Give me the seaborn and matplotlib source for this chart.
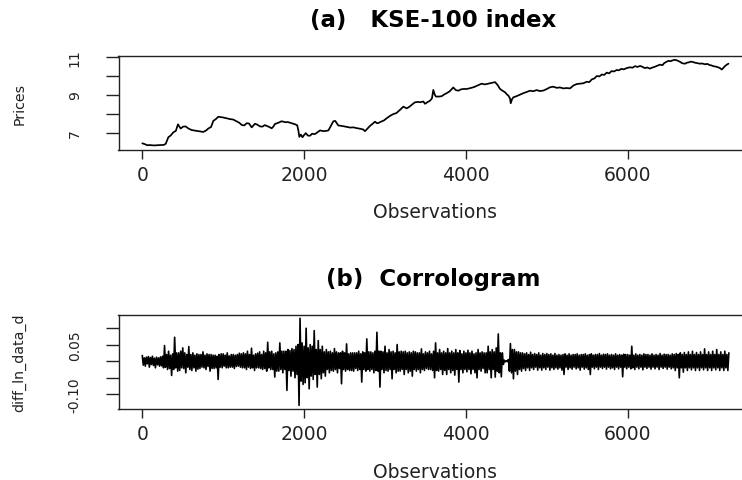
import numpy as np
import pandas as pd
import matplotlib
matplotlib.use("Agg")
import matplotlib.pyplot as plt
import seaborn as sns

# ---------------- data ----------------
price_obs = [
    0, 30, 62, 95, 140, 180, 230, 268, 290, 322,
    350, 384, 415, 441, 474, 505, 536, 570, 610, 640,
    680, 720, 754, 790, 816, 850, 878, 910, 940, 970,
    1000, 1043, 1080, 1125, 1165, 1200, 1228, 1260, 1290, 1320,
    1352, 1393, 1423, 1455, 1485, 1515, 1537, 1570, 1599, 1620,
    1640, 1680, 1720, 1743, 1770, 1800, 1830, 1860, 1890, 1915,
    1930, 1941, 1960, 1980, 2000, 2021, 2045, 2073, 2100, 2130,
    2165, 2197, 2240, 2280, 2300, 2330, 2361, 2385, 2423, 2460,
    2500, 2535, 2567, 2610, 2650, 2690, 2730, 2753, 2780, 2815,
    2850, 2876, 2900, 2918, 2950, 2985, 3021, 3060, 3103, 3140,
    3180, 3227, 3268, 3300, 3340, 3371, 3410, 3433, 3474, 3494,
    3530, 3556, 3580, 3597, 3615, 3630, 3665, 3700, 3735, 3763,
    3800, 3844, 3875, 3906, 3940, 3968, 4010, 4051, 4100, 4154,
    4195, 4230, 4257, 4300, 4340, 4360, 4390, 4422, 4455, 4483,
    4505, 4525, 4545, 4554, 4570, 4586, 4625, 4669, 4710, 4750,
    4792, 4830, 4875, 4916, 4960, 5000, 5040, 5080, 5122, 5163,
    5204, 5245, 5287, 5328, 5370, 5410, 5452, 5493, 5525, 5555,
    5590, 5617, 5650, 5680, 5710, 5740, 5770, 5800, 5830, 5864,
    5890, 5920, 5950, 5988, 6028, 6060, 6090, 6120, 6152, 6180,
    6210, 6240, 6276, 6300, 6330, 6365, 6399, 6430, 6450, 6475,
    6502, 6530, 6550, 6580, 6606, 6630, 6650, 6670, 6690, 6710,
    6729, 6755, 6780, 6805, 6832, 6860, 6890, 6920, 6955, 6985,
    7010, 7035, 7058, 7085, 7110, 7140, 7162, 7185, 7203, 7225,
    7245]
price_vals = [
    6.44, 6.40, 6.34, 6.35, 6.33, 6.34, 6.35, 6.36, 6.42, 6.76,
    6.85, 7.02, 7.10, 7.44, 7.22, 7.32, 7.33, 7.22, 7.14, 7.12,
    7.09, 7.06, 7.04, 7.12, 7.22, 7.30, 7.62, 7.72, 7.84, 7.82,
    7.80, 7.76, 7.72, 7.69, 7.60, 7.52, 7.41, 7.38, 7.50, 7.48,
    7.28, 7.47, 7.42, 7.33, 7.32, 7.40, 7.36, 7.30, 7.23, 7.32,
    7.46, 7.52, 7.60, 7.58, 7.55, 7.56, 7.52, 7.48, 7.44, 7.39,
    7.10, 6.78, 6.90, 6.76, 6.88, 6.98, 6.85, 6.84, 6.95, 6.92,
    7.02, 7.12, 7.08, 7.10, 7.12, 7.35, 7.60, 7.62, 7.38, 7.36,
    7.33, 7.30, 7.27, 7.28, 7.24, 7.21, 7.17, 7.08, 7.20, 7.36,
    7.48, 7.58, 7.50, 7.51, 7.58, 7.64, 7.76, 7.88, 7.98, 8.03,
    8.18, 8.37, 8.28, 8.36, 8.50, 8.60, 8.62, 8.60, 8.64, 8.52,
    8.62, 8.68, 8.80, 9.25, 9.00, 8.90, 8.90, 8.92, 9.02, 9.08,
    9.18, 9.38, 9.24, 9.21, 9.28, 9.30, 9.30, 9.34, 9.40, 9.50,
    9.58, 9.54, 9.56, 9.60, 9.64, 9.66, 9.52, 9.30, 9.20, 9.13,
    9.02, 8.95, 8.80, 8.55, 8.76, 8.86, 8.92, 9.00, 9.08, 9.14,
    9.21, 9.18, 9.24, 9.19, 9.22, 9.30, 9.39, 9.42, 9.36, 9.38,
    9.33, 9.35, 9.33, 9.48, 9.56, 9.58, 9.60, 9.68, 9.66, 9.80,
    9.86, 9.98, 9.96, 10.06, 10.04, 10.16, 10.12, 10.24, 10.22, 10.30,
    10.28, 10.36, 10.33, 10.40, 10.44, 10.42, 10.50, 10.46, 10.51, 10.47,
    10.40, 10.43, 10.37, 10.42, 10.46, 10.52, 10.58, 10.55, 10.66, 10.72,
    10.78, 10.76, 10.80, 10.83, 10.81, 10.76, 10.72, 10.66, 10.64, 10.63,
    10.68, 10.70, 10.74, 10.72, 10.68, 10.66, 10.63, 10.64, 10.60, 10.62,
    10.56, 10.54, 10.50, 10.48, 10.45, 10.40, 10.32, 10.42, 10.51, 10.58,
    10.63]

# daily log-differences, one reading every 12.5 observations
ret_step = 12.5
ret_vals = [
    0.017, -0.012, 0.010, -0.015, 0.012, -0.008, 0.014, -0.018, 0.011, -0.010,
    0.015, -0.013, 0.009, -0.020, 0.012, -0.011, 0.010, -0.015, 0.013, -0.014,
    0.015, -0.020, 0.047, -0.018, 0.020, -0.025, 0.030, -0.022, 0.018, -0.043,
    0.022, -0.025, 0.072, -0.020, 0.025, -0.030, 0.025, -0.028, 0.030, -0.020,
    0.040, -0.022, 0.025, -0.035, 0.020, -0.018, 0.044, -0.025, 0.020, -0.028,
    0.025, -0.020, 0.018, -0.030, 0.022, -0.024, 0.020, -0.022, 0.020, -0.018,
    0.028, -0.020, 0.018, -0.025, 0.022, -0.016, 0.020, -0.030, 0.020, -0.022,
    0.018, -0.022, 0.018, -0.020, 0.015, -0.055, 0.020, -0.018, 0.022, -0.020,
    0.022, -0.015, 0.018, -0.020, 0.025, -0.020, 0.016, -0.018, 0.020, -0.018,
    0.020, -0.022, 0.018, -0.016, 0.020, -0.015, 0.024, -0.018, 0.022, -0.020,
    0.025, -0.020, 0.022, -0.025, 0.030, -0.018, 0.020, -0.022, 0.039, -0.020,
    0.018, -0.028, 0.022, -0.020, 0.024, -0.020, 0.028, -0.022, 0.020, -0.025,
    0.030, -0.022, 0.025, -0.030, 0.057, -0.020, 0.028, -0.025, 0.030, -0.025,
    0.022, -0.048, 0.025, -0.030, 0.028, -0.030, 0.055, -0.025, 0.030, -0.035,
    0.030, -0.025, 0.030, -0.088, 0.035, -0.028, 0.032, -0.045, 0.038, -0.030,
    0.035, -0.050, 0.045, -0.040, 0.050, -0.133, 0.129, -0.060, 0.055, -0.070,
    0.045, -0.065, 0.099, -0.050, 0.040, -0.083, 0.050, -0.045, 0.045, -0.055,
    0.092, -0.040, 0.035, -0.078, 0.062, -0.040, 0.035, -0.053, 0.045, -0.035,
    0.028, -0.045, 0.035, -0.025, 0.028, -0.035, 0.030, -0.028, 0.025, -0.030,
    0.038, -0.025, 0.028, -0.035, 0.025, -0.022, 0.025, -0.068, 0.030, -0.025,
    0.025, -0.030, 0.052, -0.025, 0.022, -0.028, 0.025, -0.028, 0.025, -0.030,
    0.025, -0.022, 0.025, -0.028, 0.030, -0.025, 0.022, -0.063, 0.028, -0.025,
    0.025, -0.030, 0.067, -0.025, 0.028, -0.030, 0.028, -0.025, 0.025, -0.035,
    0.030, -0.028, 0.087, -0.030, 0.030, -0.078, 0.030, -0.025, 0.028, -0.035,
    0.045, -0.028, 0.025, -0.030, 0.035, -0.025, 0.028, -0.053, 0.030, -0.025,
    0.025, -0.035, 0.050, -0.030, 0.028, -0.030, 0.030, -0.025, 0.028, -0.040,
    0.030, -0.025, 0.025, -0.035, 0.028, -0.030, 0.025, -0.045, 0.030, -0.025,
    0.028, -0.030, 0.025, -0.025, 0.025, -0.035, 0.037, -0.025, 0.022, -0.028,
    0.028, -0.022, 0.025, -0.025, 0.030, -0.025, 0.022, -0.028, 0.030, -0.050,
    0.055, -0.028, 0.025, -0.030, 0.035, -0.025, 0.025, -0.040, 0.030, -0.028,
    0.025, -0.040, 0.038, -0.025, 0.025, -0.035, 0.030, -0.028, 0.025, -0.042,
    0.035, -0.025, 0.025, -0.063, 0.032, -0.025, 0.022, -0.035, 0.030, -0.025,
    0.025, -0.032, 0.033, -0.025, 0.025, -0.038, 0.030, -0.025, 0.022, -0.035,
    0.025, -0.050, 0.035, -0.025, 0.025, -0.030, 0.028, -0.022, 0.025, -0.035,
    0.025, -0.035, 0.045, -0.025, 0.028, -0.050, 0.035, -0.025, 0.028, -0.048,
    0.040, -0.030, 0.082, -0.035, 0.025, -0.047, 0.025, -0.010, 0.003, -0.002,
    0.001, -0.001, 0.005, -0.030, 0.053, -0.035, 0.035, -0.053, 0.035, -0.030,
    0.028, -0.040, 0.028, -0.025, 0.025, -0.030, 0.025, -0.022, 0.022, -0.028,
    0.025, -0.020, 0.020, -0.028, 0.027, -0.020, 0.020, -0.025, 0.023, -0.018,
    0.020, -0.027, 0.025, -0.020, 0.018, -0.027, 0.023, -0.020, 0.020, -0.025,
    0.023, -0.018, 0.020, -0.027, 0.022, -0.020, 0.018, -0.025, 0.023, -0.020,
    0.018, -0.024, 0.020, -0.020, 0.018, -0.027, 0.020, -0.040, 0.022, -0.018,
    0.018, -0.025, 0.022, -0.020, 0.018, -0.024, 0.020, -0.018, 0.020, -0.023,
    0.022, -0.020, 0.018, -0.027, 0.020, -0.018, 0.020, -0.024, 0.022, -0.020,
    0.018, -0.025, 0.020, -0.040, 0.022, -0.018, 0.018, -0.023, 0.020, -0.018,
    0.020, -0.025, 0.023, -0.018, 0.018, -0.022, 0.021, -0.018, 0.020, -0.024,
    0.022, -0.018, 0.018, -0.023, 0.020, -0.020, 0.018, -0.025, 0.022, -0.018,
    0.018, -0.023, 0.020, -0.018, 0.018, -0.047, 0.021, -0.018, 0.020, -0.023,
    0.020, -0.018, 0.018, -0.023, 0.045, -0.020, 0.018, -0.025, 0.022, -0.018,
    0.018, -0.023, 0.020, -0.018, 0.018, -0.026, 0.022, -0.018, 0.020, -0.022,
    0.020, -0.018, 0.018, -0.024, 0.022, -0.018, 0.018, -0.023, 0.020, -0.018,
    0.018, -0.025, 0.023, -0.018, 0.018, -0.022, 0.021, -0.018, 0.020, -0.024,
    0.020, -0.018, 0.018, -0.023, 0.022, -0.020, 0.020, -0.028, 0.023, -0.020,
    0.020, -0.050, 0.025, -0.020, 0.020, -0.033, 0.026, -0.020, 0.020, -0.028,
    0.028, -0.020, 0.020, -0.026, 0.030, -0.020, 0.020, -0.028, 0.026, -0.020,
    0.020, -0.028, 0.028, -0.020, 0.020, -0.026, 0.037, -0.020, 0.020, -0.028,
    0.028, -0.020, 0.020, -0.028, 0.030, -0.020, 0.020, -0.026, 0.035, -0.020,
    0.020, -0.028, 0.028, -0.020, 0.020, -0.028, 0.030, -0.020, 0.020, -0.028,
    0.025]

x_ticks = [0, 2000, 4000, 6000]
price_ticks = [7, 8, 9, 10, 11]
price_ticklabels = ["7", "", "9", "", "11"]
ret_ticks = [-0.10, -0.05, 0.0, 0.05, 0.10]
ret_ticklabels = ["-0.10", "", "", "0.05", ""]
titles = ["(a)   KSE-100 index", "(b)  Corrologram"]
ylabels = ["Prices", "diff_ln_data_d"]
xlabel = "Observations"

price_df = pd.DataFrame({"obs": price_obs, "price": price_vals})
ret_df = pd.DataFrame({"obs": np.arange(len(ret_vals)) * ret_step, "ret": ret_vals})

# ---------------- figure ----------------
sns.set_style("ticks")
plt.rcParams["font.family"] = ["DejaVu Sans"]

W, H = 742, 481
fig = plt.figure(figsize=(W / 100, H / 100), dpi=100)


def px_axes(l, t, r, b):
    return fig.add_axes([l / W, 1 - b / H, (r - l) / W, (b - t) / H])


ax1 = px_axes(118.5, 56.7, 752, 151)
ax2 = px_axes(118.5, 316, 752, 410)

sns.lineplot(data=price_df, x="obs", y="price", ax=ax1, color="black",
             linewidth=1.25, estimator=None, sort=False)
sns.lineplot(data=ret_df, x="obs", y="ret", ax=ax2, color="black",
             linewidth=1.2, estimator=None, sort=False)

ax1.set_ylim(6.09, 11.05)
ax2.set_ylim(-0.144, 0.139)
ax1.set_yticks(price_ticks)
ax1.set_yticklabels(price_ticklabels)
ax2.set_yticks(ret_ticks)
ax2.set_yticklabels(ret_ticklabels)

for ax, title, ylab, tcy, lcy in [(ax1, titles[0], ylabels[0], 1.389, -0.657),
                                  (ax2, titles[1], ylabels[1], 1.383, -0.66)]:
    ax.set_xlim(-294, 7536)
    ax.set_xticks(x_ticks)
    ax.set_xticklabels([str(v) for v in x_ticks])
    for s in ax.spines.values():
        s.set_visible(True)
        s.set_color("#222222")
        s.set_linewidth(1.0)
    ax.spines["right"].set_visible(False)
    ax.tick_params(axis="x", length=6.5, width=1.0, color="#222222",
                   labelsize=13.5, pad=4, labelcolor="#222222")
    ax.tick_params(axis="y", length=9.4, width=1.0, color="#222222",
                   labelsize=10, pad=17, labelrotation=90, labelcolor="#222222")
    for lab in ax.get_yticklabels():
        lab.set_va("center")
    ax.set_xlabel(xlabel, fontsize=13.5, color="#222222", va="center")
    ax.xaxis.set_label_coords(0.5, lcy)
    ax.set_ylabel(ylab, fontsize=10.2, color="#222222", va="center")
    ax.yaxis.set_label_coords(-0.156, 0.5)
    ax.text(0.497, tcy, title, transform=ax.transAxes, ha="center", va="center",
            fontsize=16.5, fontweight="bold", color="black")

fig.savefig("out.png", dpi=100)
